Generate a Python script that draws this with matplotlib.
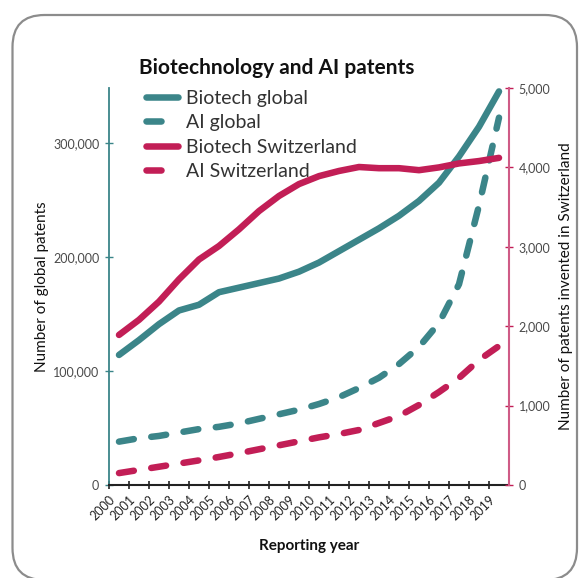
import matplotlib
matplotlib.use('Agg')
import matplotlib.pyplot as plt
from matplotlib.patches import FancyBboxPatch
from matplotlib.ticker import FuncFormatter

plt.rcParams['font.family'] = ['Lato', 'DejaVu Sans']

years = list(range(2000, 2020))
biotech_global = [114000, 127000, 141000, 153000, 158000, 169000, 173000, 177000, 181000, 187000,
                  195000, 205000, 215000, 225000, 236000, 249000, 265000, 288000, 314000, 345000]
ai_global = [38000, 41000, 43000, 46000, 49000, 51000, 54000, 58000, 62000, 66000,
             71000, 77000, 85000, 94000, 106000, 121000, 142000, 176000, 245000, 322000]
biotech_ch = [1890, 2080, 2310, 2590, 2840, 3010, 3220, 3450, 3640, 3790,
              3890, 3955, 4005, 3990, 3990, 3965, 4000, 4050, 4080, 4120]
ai_ch = [150, 190, 230, 270, 310, 353, 400, 450, 500, 550,
         600, 642, 693, 781, 869, 1008, 1171, 1348, 1574, 1751]

teal = '#3b8589'
crimson = '#c21e56'
pink_axis = '#cf5b86'
gray_txt = '#4a4a4a'

fig = plt.figure(figsize=(5.82, 5.78), dpi=100)

# rounded frame
frame = FancyBboxPatch((0.125, -0.02), 5.645, 5.65, boxstyle='round,pad=0,rounding_size=0.32',
                       transform=fig.dpi_scale_trans, fill=False, edgecolor='#8c8c8c', linewidth=1.6)
fig.patches.append(frame)

ax = fig.add_axes([109 / 582, 93 / 578, 400 / 582, 397 / 578])
ax2 = ax.twinx()

xs = [i + 0.5 for i in range(len(years))]
lw = 4.7
dash = (2.3, 2.7)

l1, = ax.plot(xs, biotech_global, color=teal, lw=lw, solid_capstyle='round', solid_joinstyle='round')
l2, = ax.plot(xs, ai_global, color=teal, lw=lw, dashes=dash, dash_capstyle='round')
l3, = ax2.plot(xs, biotech_ch, color=crimson, lw=lw, solid_capstyle='round', solid_joinstyle='round')
l4, = ax2.plot(xs, ai_ch, color=crimson, lw=lw, dashes=dash, dash_capstyle='round')

ax.set_xlim(0, 20)
ax.set_ylim(0, 348000)
ax2.set_ylim(0, 5000)

ax.set_xticks(range(len(years)))
ax.set_xticklabels([str(y) for y in years], rotation=45, ha='right', va='top',
                   rotation_mode='anchor', fontsize=9, color='#222222')
ax.tick_params(axis='x', direction='inout', length=6, width=1.2, color='#222222', pad=3)

ax.set_yticks([0, 100000, 200000, 300000])
ax.yaxis.set_major_formatter(FuncFormatter(lambda v, p: f'{int(v):,}'))
ax.tick_params(axis='y', direction='inout', length=6, width=1, color=teal, labelcolor=gray_txt,
               labelsize=9, pad=4)
ax2.set_yticks([0, 1000, 2000, 3000, 4000, 5000])
ax2.yaxis.set_major_formatter(FuncFormatter(lambda v, p: f'{int(v):,}'))
ax2.tick_params(axis='y', direction='inout', length=6, width=1, color=crimson, labelcolor=gray_txt,
                labelsize=9, pad=4)

for a in (ax, ax2):
    a.spines['top'].set_visible(False)
ax.spines['right'].set_visible(False)
ax2.spines['left'].set_visible(False)
ax2.spines['bottom'].set_visible(False)
ax.spines['left'].set_color(teal)
ax.spines['left'].set_linewidth(1.3)
ax.spines['bottom'].set_color('#222222')
ax.spines['bottom'].set_linewidth(1.5)
ax2.spines['right'].set_color(pink_axis)
ax2.spines['right'].set_linewidth(1.5)

ax.set_ylabel('Number of global patents', fontsize=11, color='#111111', labelpad=3)
ax2.set_ylabel('Number of patents invented in Switzerland', fontsize=11, color='#111111',
               rotation=90, labelpad=6)
ax.set_xlabel('Reporting year', fontsize=11, fontweight='bold', color='#111111', labelpad=12)

fig.text(277 / 582, 1 - 68 / 578, 'Biotechnology and AI patents', fontsize=15,
         fontweight='bold', ha='center', va='center', color='#111111')

leg = ax.legend([l1, l2, l3, l4], ['Biotech global', 'AI global', 'Biotech Switzerland', 'AI Switzerland'],
                loc='upper left', bbox_to_anchor=(0.072, 1.015), frameon=False, fontsize=14,
                handlelength=1.65, handletextpad=0.45, labelspacing=0.38, borderaxespad=0)
for t in leg.get_texts():
    t.set_color('#333333')

fig.savefig('out.png', dpi=100)
